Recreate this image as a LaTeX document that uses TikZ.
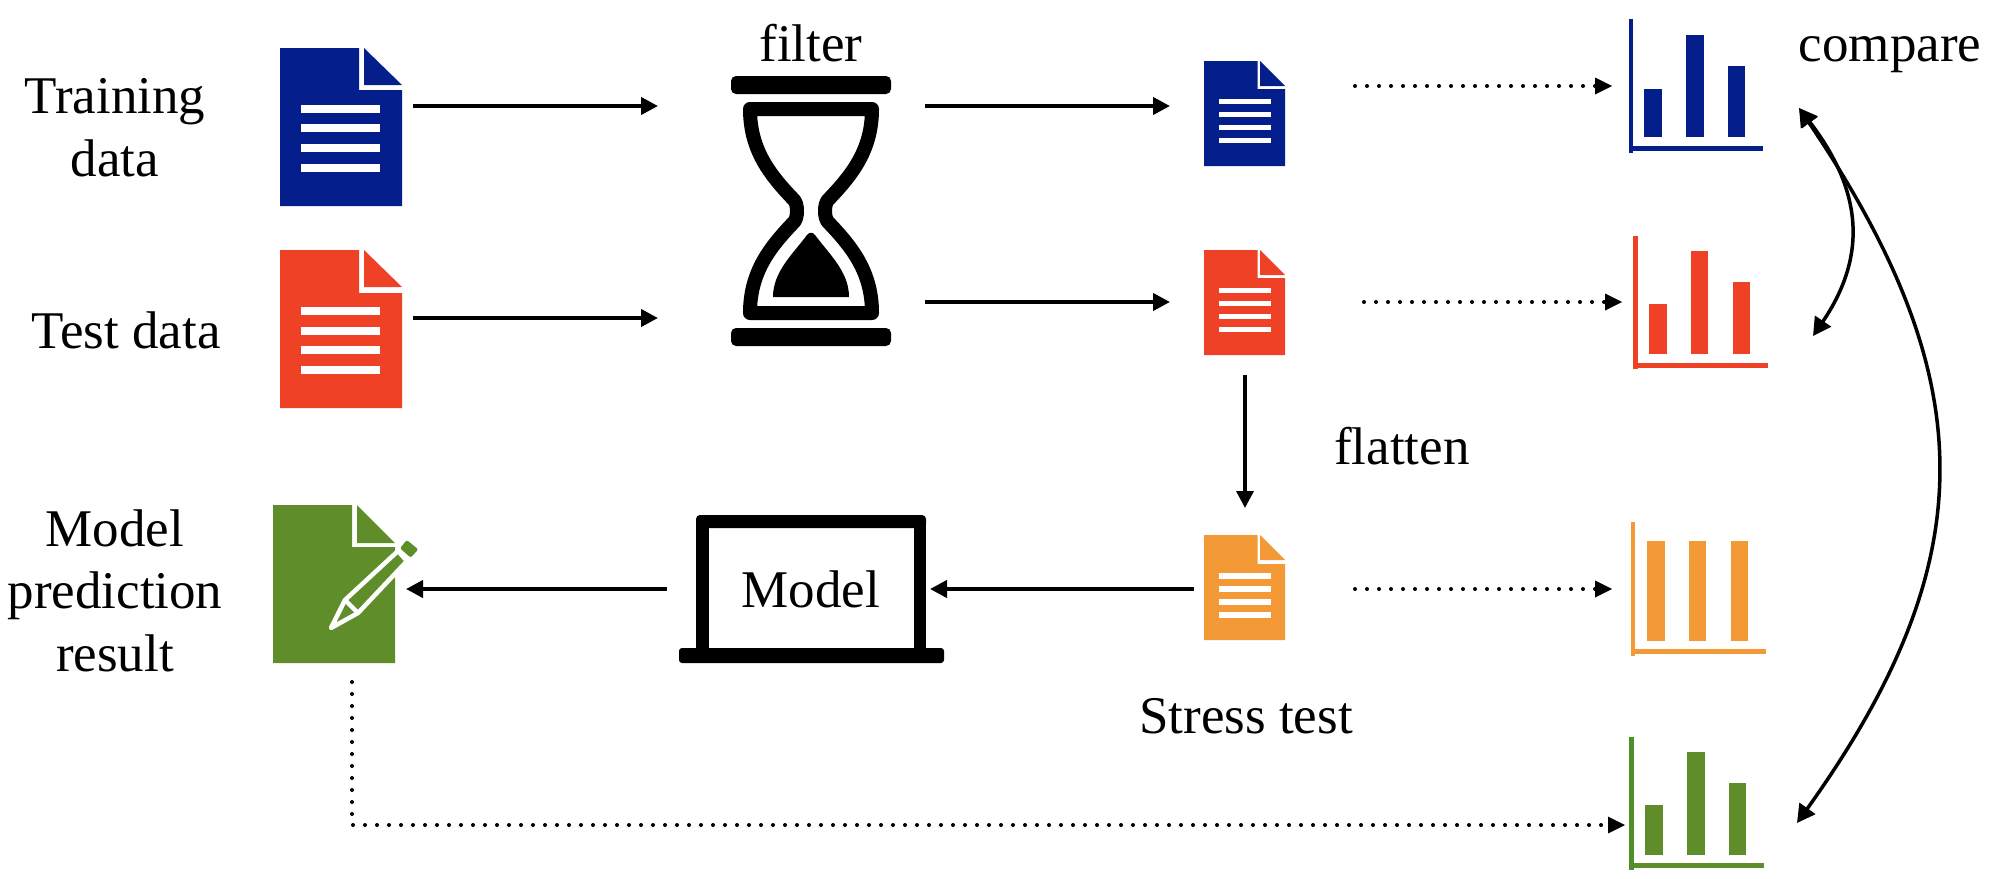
\documentclass[tikz,border=0pt]{standalone}
\usepackage{fontspec}
\setmainfont{Liberation Serif}
\usetikzlibrary{arrows.meta}
\definecolor{cblue}{HTML}{041E8C}
\definecolor{cred}{HTML}{EE4125}
\definecolor{corange}{HTML}{F39A36}
\definecolor{cgreen}{HTML}{5F8D29}
\definecolor{caxisgreen}{HTML}{4F8F2A}
\tikzset{
  lbl/.style={font=\fontsize{53}{62.5}\selectfont, inner sep=0pt, outer sep=0pt, align=center, anchor=base},
  flow/.style={line width=4pt, -{Triangle[length=17pt,width=17pt]}},
  thinflow/.style={line width=3.5pt, -{Triangle[length=17pt,width=17pt]}},
  dotflow/.style={line width=4pt, line cap=round, dash pattern=on 0pt off 12pt},
  cmp/.style={line width=3.5pt, {Triangle[length=18pt,width=19pt]}-{Triangle[length=18pt,width=19pt]}},
  sheetline/.style={fill=white},
}
% body polygon and folded corner of a sheet
\newcommand{\mysheet}[9]{% x0 xn xt x1 y0 yt yf y1 colour
  \fill[#9] (#1,#5) -- (#2,#5) -- (#2,#7) -- (#4,#7) -- (#4,#8) -- (#1,#8) -- cycle;
  \fill[#9] (#3,#5) -- (#4,#6) -- (#3,#6) -- cycle;
}
\newcommand{\mybars}[3]{% x0 x1 list of y-ranges
  \foreach \ya/\yb in {#3} {\fill[sheetline] (#1,\ya) rectangle (#2,\yb);}
}
\begin{document}
\begin{tikzpicture}[x=1pt,y=-1pt]
\useasboundingbox (0,0) rectangle (2002,878);

% ---- documents
\mysheet{280}{359}{364}{402}{48}{85}{90}{206}{cblue}
\mybars{301}{380}{105/113,124/132,144/152,164/172}
\mysheet{280}{359}{364}{402}{250}{287}{293}{408}{cred}
\mybars{301}{380}{307/315,327/335,346/354,366/374}
\mysheet{1204}{1257.5}{1260}{1285}{61}{86}{89}{166}{cblue}
\mybars{1219}{1271}{99/104,112/117,125/130,138/143}
\mysheet{1204}{1257.5}{1260}{1285}{250}{275}{278}{355}{cred}
\mybars{1219}{1271}{288/293,301/306,314/319,327/332}
\mysheet{1204}{1257.5}{1260}{1285}{535}{560}{564}{640}{corange}
\mybars{1219}{1271}{573/579,586/592,599/605,612/618}

% ---- result sheet with pen
\mysheet{273}{352}{357}{395}{505}{543}{547}{663}{cgreen}
\filldraw[cgreen, draw=white, line width=4.5pt, line join=round]
  (331,628) -- (345,600) -- (398,551) -- (407,561) -- (358,613) -- cycle;
\draw[white, line width=4.5pt] (345,600) -- (358,613);
\fill[cgreen, rounded corners=2pt] (406.7,540) -- (418.3,549.3) -- (410.7,557.7) -- (400,548.3) -- cycle;

% ---- hourglass
\fill[black, rounded corners=5pt] (731,76) rectangle (891,94);
\fill[black, rounded corners=5pt] (731,328) rectangle (891,346);
\draw[black, line width=14pt, line join=round]
  (750,109) -- (872,109)
  .. controls (872,150) and (852,175) .. (828,200)
  .. controls (824,204) and (824,218) .. (828,222)
  .. controls (852,247) and (872,272) .. (872,313)
  -- (750,313)
  .. controls (750,272) and (770,247) .. (794,222)
  .. controls (798,218) and (798,204) .. (794,200)
  .. controls (770,175) and (750,150) .. (750,109) -- cycle;
\fill[black] (773,297)
  .. controls (773,272) and (792,255) .. (807,235)
  .. controls (809,232) and (813,232) .. (815,235)
  .. controls (830,255) and (849,272) .. (849,297) -- cycle;

% ---- laptop
\fill[black, rounded corners=4pt] (696,515) -- (926,515) -- (926,528) -- (696,528) -- cycle;
\fill[black] (696,522) rectangle (709,650);
\fill[black] (914,522) rectangle (926,650);
\fill[black, rounded corners=3pt] (679,648) -- (944,648) -- (944,663) -- (679,663) -- cycle;

% ---- charts
\fill[cblue] (1629,19) rectangle (1633,153);
\fill[cblue] (1633,146) rectangle (1763,151);
\fill[cblue] (1644,89) rectangle (1662,137);
\fill[cblue] (1686,35) rectangle (1704,137);
\fill[cblue] (1728,66) rectangle (1745,137);

\fill[cred] (1633,236) rectangle (1638,369);
\fill[cred] (1638,363) rectangle (1768,368);
\fill[cred] (1649,304) rectangle (1667,354);
\fill[cred] (1691,251) rectangle (1708,354);
\fill[cred] (1733,282) rectangle (1750,354);

\fill[corange] (1631,522) rectangle (1635,656);
\fill[corange] (1635,649) rectangle (1766,654);
\fill[corange] (1647,541) rectangle (1665,641);
\fill[corange] (1689,541) rectangle (1706,641);
\fill[corange] (1731,541) rectangle (1748,641);

\fill[caxisgreen] (1629,737) rectangle (1634,870);
\fill[cgreen] (1634,863) rectangle (1764,868);
\fill[cgreen] (1645,805) rectangle (1663,855);
\fill[cgreen] (1687,752) rectangle (1705,855);
\fill[cgreen] (1729,783) rectangle (1746,855);

% ---- labels
\node[lbl] (ltrain) at (115,176) {Training\\data};
\node[lbl] (ltest) at (126,348) {Test data};
\node[lbl] (lfilter) at (811,61) {filter};
\node[lbl] (lcompare) at (1890,61) {compare};
\node[lbl] (lflatten) at (1402,464) {flatten};
\node[lbl] (lstress) at (1246,733) {Stress test};
\node[lbl] (lmodel) at (811,607) {Model};
\node[lbl] (lresult) at (115,671) {Model\\prediction\\result};

% ---- connector ends
\coordinate (docTrainOut) at (413,106);
\coordinate (filterInA) at (658,106);
\coordinate (docTestOut) at (413,318);
\coordinate (filterInB) at (658,318);
\coordinate (filterOutA) at (925,106);
\coordinate (docAIn) at (1170,106);
\coordinate (filterOutB) at (925,302);
\coordinate (docBIn) at (1170,302);
\coordinate (docAOut) at (1355,86);
\coordinate (chartAIn) at (1612,86);
\coordinate (docBOut) at (1364,302);
\coordinate (chartBIn) at (1622,302);
\coordinate (docCOut) at (1355,589);
\coordinate (chartCIn) at (1612,589);
\coordinate (docBDown) at (1245,375);
\coordinate (docCIn) at (1245,508);
\coordinate (docCLeft) at (1194,589);
\coordinate (modelIn) at (930,589);
\coordinate (modelOut) at (667,589);
\coordinate (resultIn) at (406,589);
\coordinate (resultOut) at (352,682);
\coordinate (elbow) at (352,825);
\coordinate (chartDIn) at (1625,825);
\coordinate (cmpTop) at (1799,108);
\coordinate (cmpB) at (1813,336);
\coordinate (cmpD) at (1797,823);

% ---- connectors
\draw[flow] (docTrainOut) -- (filterInA);
\draw[flow] (docTestOut) -- (filterInB);
\draw[flow] (filterOutA) -- (docAIn);
\draw[flow] (filterOutB) -- (docBIn);
\draw[thinflow] (docBDown) -- (docCIn);
\draw[flow] (docCLeft) -- (modelIn);
\draw[flow] (modelOut) -- (resultIn);

\draw[dotflow] (docAOut) -- ++(240,0);
\fill (chartAIn) -- ++(-17,-8.5) -- ++(0,17) -- cycle;
\draw[dotflow] (docBOut) -- ++(240,0);
\fill (chartBIn) -- ++(-17,-8.5) -- ++(0,17) -- cycle;
\draw[dotflow] (docCOut) -- ++(240,0);
\fill (chartCIn) -- ++(-17,-8.5) -- ++(0,17) -- cycle;
\draw[dotflow] (resultOut) -- (elbow) -- ([xshift=-19pt]chartDIn);
\fill (chartDIn) -- ++(-17,-8.5) -- ++(0,17) -- cycle;

\draw[cmp] (cmpTop) .. controls (1862,190) and (1868,255) .. (cmpB);
\draw[cmp] (cmpTop) .. controls (1983,380) and (1985,560) .. (cmpD);
\end{tikzpicture}
\end{document}
